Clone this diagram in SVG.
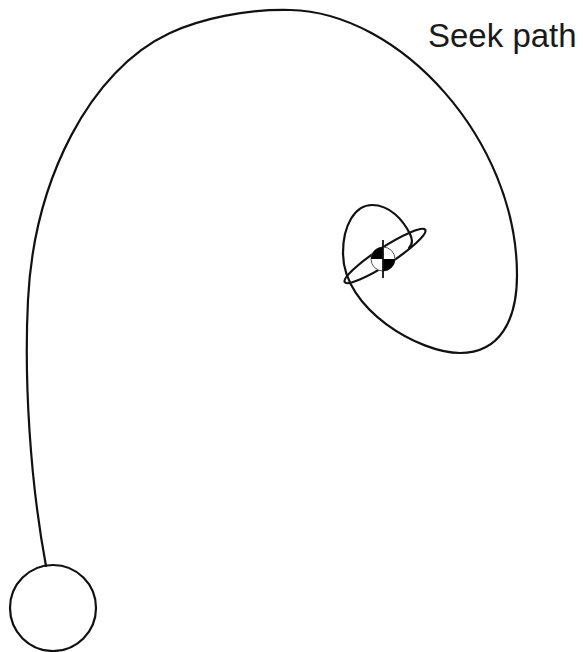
<svg xmlns="http://www.w3.org/2000/svg" width="583" height="652" viewBox="0 0 583 652">
<style>
.ln{fill:none;stroke:#111;stroke-width:2.2;stroke-linecap:round;stroke-linejoin:round}
.lbl{font-family:"Liberation Sans",Arial,sans-serif;font-size:33px;fill:#1a1a1a}
</style>
<rect width="583" height="652" fill="#fff"/>
<g id="connectors">
<path class="ln" d="M46,566 C30,480 24,380 28,300 C34,180 90,70 170,33 C200,19 245,9 290,10 C400,12 517,140 517,275 C517,320 500,353 460,353 C420,353 343,310 343,253 C343,225 355,205 372,205 C390,205 403,220 410,234 C413,240 413,244 409,248"/>
<ellipse class="ln" cx="385" cy="256" rx="48" ry="8.5" transform="rotate(-33 385 256)"/>
</g>
<g id="start">
<circle class="ln" cx="53" cy="608" r="43" fill="#fff"/>
</g>
<g id="target">
<circle cx="383" cy="259" r="12" fill="#fff" stroke="#555" stroke-width="1"/>
<path d="M383,259 L371,259 A12,12 0 0 1 383,247 Z M383,259 L395,259 A12,12 0 0 1 383,271 Z" fill="#000"/>
<line x1="383" y1="240" x2="383" y2="278" stroke="#111" stroke-width="1.8"/>
</g>
<g id="label">
<text class="lbl" x="428" y="47">Seek path</text>
</g>
</svg>
